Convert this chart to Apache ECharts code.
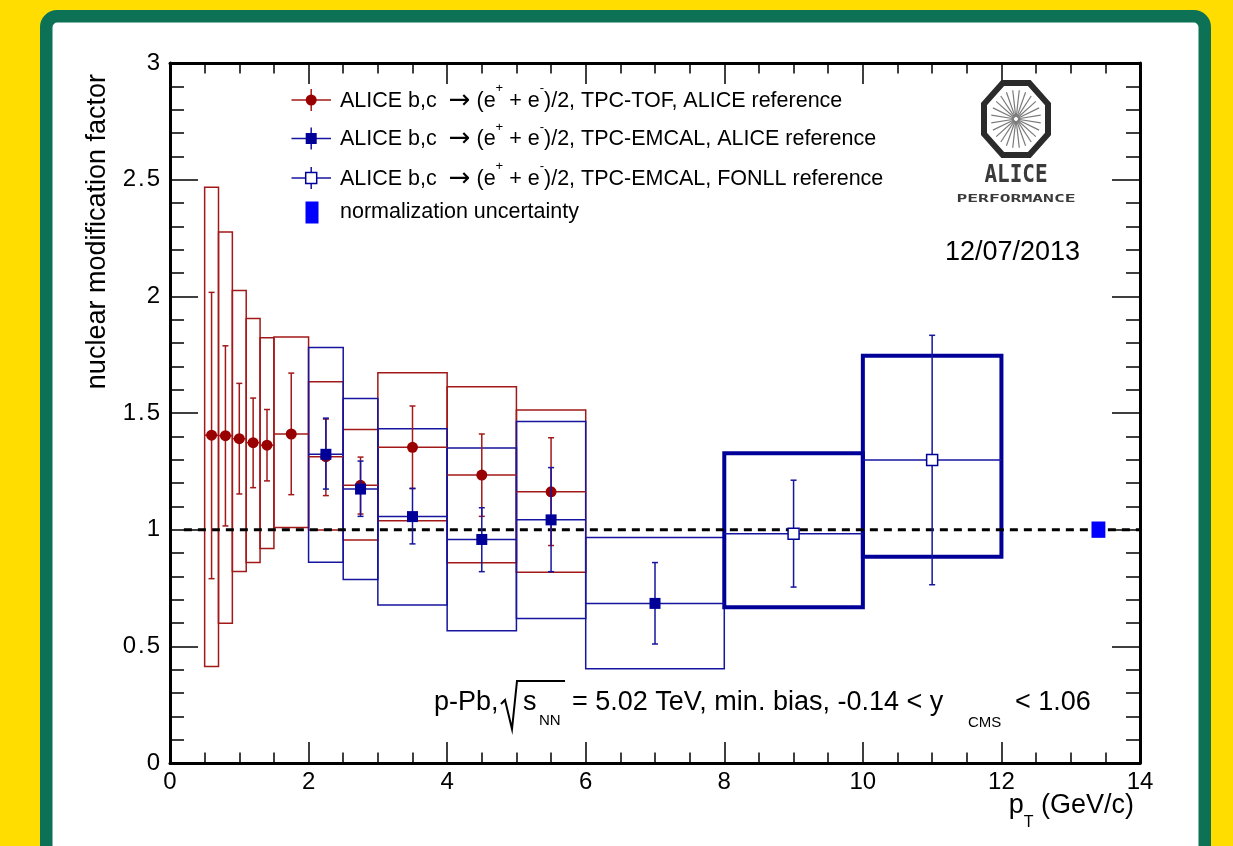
<!DOCTYPE html>
<html lang="en">
  <head>
    <meta charset="UTF-8" />
    <title>ALICE nuclear modification factor, p-Pb</title>
    <script src="https://cdn.jsdelivr.net/npm/echarts@6/dist/echarts.min.js"></script>
    <style>
      html, body { margin: 0; padding: 0; background: #ffdd00; }
      #main { width: 1233px; height: 846px; }
    </style>
  </head>
  <body>
    <div id="main"></div>
    <script>
      // TPC-TOF, ALICE reference (red circles)
      const tofLow = [0.5, 0.7, 0.9, 1.1, 1.3, 1.5, 2.0, 2.5, 3, 4, 5];
      const tofHigh = [0.7, 0.9, 1.1, 1.3, 1.5, 2.0, 2.5, 3, 4, 5, 6];
      const tofRaa = [1.405, 1.403, 1.39, 1.373, 1.362, 1.41, 1.313, 1.19, 1.353, 1.234, 1.162];
      const tofStatLo = [0.79, 1.016, 1.153, 1.18, 1.209, 1.15, 1.146, 1.067, 1.176, 1.057, 0.932];
      const tofStatHi = [2.017, 1.788, 1.627, 1.564, 1.515, 1.671, 1.474, 1.311, 1.53, 1.41, 1.394];
      const tofSysLo = [0.414, 0.599, 0.821, 0.859, 0.919, 1.009, 0.999, 0.956, 1.038, 0.858, 0.817];
      const tofSysHi = [2.467, 2.276, 2.025, 1.905, 1.822, 1.826, 1.634, 1.429, 1.673, 1.612, 1.513];

      // TPC-EMCAL, ALICE reference (filled blue squares)
      const emcLow = [2, 2.5, 3, 4, 5, 6];
      const emcHigh = [2.5, 3, 4, 5, 6, 8];
      const emcRaa = [1.323, 1.174, 1.056, 0.958, 1.042, 0.684];
      const emcStatLo = [1.174, 1.057, 0.939, 0.82, 0.82, 0.51];
      const emcStatHi = [1.478, 1.294, 1.177, 1.094, 1.266, 0.859];
      const emcSysLo = [0.86, 0.786, 0.677, 0.567, 0.619, 0.404];
      const emcSysHi = [1.781, 1.562, 1.432, 1.35, 1.464, 0.966];

      // TPC-EMCAL, FONLL reference (open blue squares)
      const fonllLow = [8, 10];
      const fonllHigh = [10, 12];
      const fonllRaa = [0.983, 1.299];
      const fonllStatLo = [0.754, 0.764];
      const fonllStatHi = [1.212, 1.833];
      const fonllSysLo = [0.667, 0.884];
      const fonllSysHi = [1.327, 1.745];

      // normalization uncertainty box
      const normLow = [13.3];
      const normHigh = [13.5];
      const normLo = [0.965];
      const normHi = [1.035];

      // unity reference line
      const unityX = [0.2, 14];
      const unityY = 1;

      const legendLabels = [
        'TPC-TOF, ALICE reference',
        'TPC-EMCAL, ALICE reference',
        'TPC-EMCAL, FONLL reference',
        'normalization uncertainty'
      ];

      const FONT = '"Liberation Sans", Arial, Helvetica, sans-serif';
      const RED = '#990000';
      const RED_LINE = '#a31818';
      const BLUE = '#000099';
      const BLUE_LINE = '#15159f';

      function rows(lo, hi, y, sLo, sHi, yLo, yHi) {
        return lo.map((v, i) => [v, hi[i], y[i], sLo[i], sHi[i], yLo[i], yHi[i]]);
      }

      const tofRows = rows(tofLow, tofHigh, tofRaa, tofStatLo, tofStatHi, tofSysLo, tofSysHi);
      const emcRows = rows(emcLow, emcHigh, emcRaa, emcStatLo, emcStatHi, emcSysLo, emcSysHi);
      const fonllRows = rows(fonllLow, fonllHigh, fonllRaa, fonllStatLo, fonllStatHi, fonllSysLo, fonllSysHi);
      const normRows = normLow.map((v, i) => [v, normHigh[i], 1, normLo[i], normHi[i], normLo[i], normHi[i]]);

      function boxSeries(name, data, color, width, z, fill) {
        return {
          type: 'custom',
          name: name,
          data: data,
          z: z,
          silent: true,
          renderItem: function (params, api) {
            const p0 = api.coord([api.value(0), api.value(5)]);
            const p1 = api.coord([api.value(1), api.value(6)]);
            return {
              type: 'rect',
              shape: { x: p0[0], y: p1[1], width: p1[0] - p0[0], height: p0[1] - p1[1] },
              style: { fill: fill || 'none', stroke: fill ? null : color, lineWidth: width }
            };
          }
        };
      }

      function pointSeries(name, data, color, lineColor, marker, z) {
        return {
          type: 'custom',
          name: name,
          data: data,
          z: z,
          silent: true,
          renderItem: function (params, api) {
            const xl = api.value(0), xh = api.value(1), y = api.value(2);
            const xc = (xl + xh) / 2;
            const a = api.coord([xl, y]);
            const b = api.coord([xh, y]);
            const c = api.coord([xc, y]);
            const lo = api.coord([xc, api.value(3)]);
            const hi = api.coord([xc, api.value(4)]);
            const ln = (x1, y1, x2, y2) => ({
              type: 'line',
              shape: { x1: x1, y1: y1, x2: x2, y2: y2 },
              style: { stroke: lineColor, lineWidth: 1.5 }
            });
            const s = 5.5;
            let mark;
            if (marker === 'circle') {
              mark = { type: 'circle', shape: { cx: c[0], cy: c[1], r: s }, style: { fill: color } };
            } else if (marker === 'square') {
              mark = { type: 'rect', shape: { x: c[0] - s, y: c[1] - s, width: 2 * s, height: 2 * s }, style: { fill: color } };
            } else {
              mark = { type: 'rect', shape: { x: c[0] - s, y: c[1] - s, width: 2 * s, height: 2 * s }, style: { fill: '#fff', stroke: color, lineWidth: 1.5 } };
            }
            return {
              type: 'group',
              children: [
                ln(a[0], a[1], b[0], b[1]),
                ln(c[0], lo[1], c[0], hi[1]),
                ln(c[0] - 3, lo[1], c[0] + 3, lo[1]),
                ln(c[0] - 3, hi[1], c[0] + 3, hi[1]),
                mark
              ]
            };
          }
        };
      }

      // ---- decorations: legend, logo, texts ----
      const graphics = [];

      graphics.push({
        type: 'rect',
        z: -10,
        silent: true,
        shape: { x: 46.25, y: 16.25, width: 1158.5, height: 900, r: 11 },
        style: { fill: '#ffffff', stroke: '#0d7155', lineWidth: 12.5 }
      });

      function txt(x, y, text, size, align, extra) {
        return Object.assign({
          type: 'text',
          x: x,
          y: y,
          z: 100,
          silent: true,
          style: {
            text: text,
            font: size + 'px ' + FONT,
            fill: '#000',
            align: align || 'left',
            textAlign: align || 'left',
            verticalAlign: 'middle',
            textVerticalAlign: 'middle'
          }
        }, extra || {});
      }

      function richTxt(x, y, text, rich, align) {
        return {
          type: 'text',
          x: x,
          y: y,
          z: 100,
          silent: true,
          style: {
            text: text,
            rich: rich,
            fill: '#000',
            align: align || 'left',
            textAlign: align || 'left',
            verticalAlign: 'middle',
            textVerticalAlign: 'middle'
          }
        };
      }

      function seg(x1, y1, x2, y2, color, w) {
        return {
          type: 'line', z: 100, silent: true,
          shape: { x1: x1, y1: y1, x2: x2, y2: y2 },
          style: { stroke: color, lineWidth: w }
        };
      }

      const legendY = [100, 138.5, 178, 212.5];
      const decayRich = {
        a: { fontSize: 21.5, fontFamily: FONT, lineHeight: 38, fill: '#000' },
        r: { fontSize: 26, fontFamily: '"DejaVu Sans", sans-serif', lineHeight: 38, fill: '#000' },
        s: { fontSize: 13, fontFamily: FONT, lineHeight: 13, verticalAlign: 'top', fill: '#000' }
      };
      const legendColors = [RED, BLUE, BLUE];
      const legendMarks = ['circle', 'square', 'open'];
      for (let i = 0; i < 3; i++) {
        const y = legendY[i];
        const col = legendColors[i];
        const lcol = i === 0 ? RED_LINE : BLUE_LINE;
        graphics.push(seg(291.5, y, 331, y, lcol, 1.5));
        graphics.push(seg(311.2, y - 11, 311.2, y + 11, lcol, 1.5));
        if (legendMarks[i] === 'circle') {
          graphics.push({ type: 'circle', z: 100, silent: true, shape: { cx: 311.2, cy: y, r: 5.5 }, style: { fill: col } });
        } else if (legendMarks[i] === 'square') {
          graphics.push({ type: 'rect', z: 100, silent: true, shape: { x: 305.7, y: y - 5.5, width: 11, height: 11 }, style: { fill: col } });
        } else {
          graphics.push({ type: 'rect', z: 100, silent: true, shape: { x: 305.7, y: y - 5.5, width: 11, height: 11 }, style: { fill: '#fff', stroke: col, lineWidth: 1.5 } });
        }
        graphics.push(richTxt(340, y + 1,
          '{a|ALICE b,c  }{r|\u2192}{a| (e}{s|+}{a| + e}{s|-}{a|)/2, ' + legendLabels[i] + '}', decayRich));
      }
      graphics.push({
        type: 'rect', z: 100, silent: true,
        shape: { x: 305.5, y: legendY[3] - 11, width: 13, height: 22 },
        style: { fill: '#0000ff' }
      });
      graphics.push(txt(340, legendY[3], legendLabels[3], 21.5));

      // axis titles
      graphics.push(txt(98, 74, 'nuclear modification factor', 27, 'right', { rotation: Math.PI / 2 }));
      graphics.push(richTxt(1134, 806, '{a|p}{b|T}{a| (GeV/c)}', {
        a: { fontSize: 27, fontFamily: FONT, lineHeight: 50, fill: '#000' },
        b: { fontSize: 16, fontFamily: FONT, lineHeight: 16, verticalAlign: 'bottom', fill: '#000' }
      }, 'right'));

      // date
      graphics.push(txt(945, 253, '12/07/2013', 27));

      // collision system annotation
      graphics.push(txt(434, 703, 'p-Pb,', 27));
      graphics.push({
        type: 'polyline', z: 100, silent: true,
        shape: { points: [[501, 704], [505, 700], [512, 729], [517, 681], [565, 681]] },
        style: { stroke: '#000', lineWidth: 2, fill: null }
      });
      graphics.push(txt(523, 703, 's', 27));
      graphics.push(txt(539, 721, 'NN', 15));
      graphics.push(txt(572, 703, '= 5.02 TeV, min. bias, -0.14 < y', 27));
      graphics.push(txt(968, 723, 'CMS', 15));
      graphics.push(txt(1015, 703, '< 1.06', 27));

      // ALICE performance logo
      const lcx = 1016, lcy = 119;
      const oct = [];
      for (let k = 0; k < 8; k++) {
        const t = (22.5 + 45 * k) * Math.PI / 180;
        const c = Math.cos(22.5 * Math.PI / 180);
        oct.push([lcx + 32 * Math.cos(t) / c, lcy + 36 * Math.sin(t) / c]);
      }
      graphics.push({
        type: 'polygon', z: 100, silent: true,
        shape: { points: oct },
        style: { fill: 'none', stroke: '#2b2b2b', lineWidth: 6 }
      });
      for (let k = 0; k < 24; k++) {
        const t = (k * 15 + 7.5) * Math.PI / 180;
        graphics.push(seg(lcx + 2 * Math.cos(t), lcy + 2 * Math.sin(t),
          lcx + 25 * Math.cos(t), lcy + 29 * Math.sin(t), '#7a7a7a', 1.2));
      }
      graphics.push(txt(lcx, 176, 'ALICE', 21, 'center', { scaleY: 1.15 }));
      graphics[graphics.length - 1].style.font = 'bold 21px "DejaVu Sans Mono", monospace';
      graphics[graphics.length - 1].style.fill = '#3a3a3a';
      graphics.push(txt(lcx, 199, 'PERFORMANCE', 18, 'center', { scaleY: 0.6 }));
      graphics[graphics.length - 1].style.font = 'bold 18px "DejaVu Sans Mono", monospace';
      graphics[graphics.length - 1].style.fill = '#3a3a3a';

      const axisLineStyle = { color: '#000', width: 3 };

      function xAx(pos, labels) {
        return {
          type: 'value', position: pos, min: 0, max: 14, interval: 2,
          axisLine: { show: true, onZero: false, lineStyle: axisLineStyle },
          axisTick: { show: true, inside: true, length: 21, lineStyle: { color: '#000', width: 1.5 } },
          minorTick: { show: true, splitNumber: 4, length: 10.5, lineStyle: { color: '#000', width: 1.5 } },
          axisLabel: { show: labels, fontSize: 24, fontFamily: FONT, color: '#000', margin: 7 },
          splitLine: { show: false },
          minorSplitLine: { show: false }
        };
      }
      function yAx(pos, labels) {
        return {
          type: 'value', position: pos, min: 0, max: 3, interval: 0.5,
          axisLine: { show: true, onZero: false, lineStyle: axisLineStyle },
          axisTick: { show: true, inside: true, length: 28, lineStyle: { color: '#000', width: 1.5 } },
          minorTick: { show: true, splitNumber: 5, length: 14, lineStyle: { color: '#000', width: 1.5 } },
          axisLabel: {
            show: labels, fontSize: 24, fontFamily: FONT, color: '#000', margin: 10,
            // ROOT leaves a little more room round the decimal point
            formatter: (v) => String(v).replace('.', '\u200A.\u200A')
          },
          splitLine: { show: false },
          minorSplitLine: { show: false }
        };
      }

      const option = {
        animation: false,
        backgroundColor: '#ffdd00',
        grid: { left: 170, right: 93, top: 63, bottom: 83, containLabel: false },
        xAxis: [xAx('bottom', true), xAx('top', false)],
        yAxis: [yAx('left', true), yAx('right', false)],
        graphic: { elements: graphics },
        series: [
          boxSeries('TPC-TOF sys', tofRows, RED_LINE, 1.5, 2),
          boxSeries('TPC-EMCAL sys', emcRows, BLUE_LINE, 1.5, 2),
          boxSeries('FONLL sys', fonllRows, BLUE, 4, 3),
          {
            type: 'line', name: 'unity', z: 4, silent: true,
            data: unityX.map((x) => [x, unityY]),
            symbol: 'none',
            lineStyle: { color: '#000', width: 3, type: [8, 6] }
          },
          pointSeries('TPC-TOF', tofRows, RED, RED_LINE, 'circle', 5),
          pointSeries('TPC-EMCAL', emcRows, BLUE, BLUE_LINE, 'square', 6),
          pointSeries('FONLL', fonllRows, BLUE, BLUE_LINE, 'open', 7),
          boxSeries('normalization', normRows, '#0000ff', 0, 8, '#0000ff')
        ]
      };

      const chart = echarts.init(document.getElementById('main'));
      chart.setOption(option);
      window.onresize = function () {
        chart.resize();
      };
    </script>
  </body>
</html>
